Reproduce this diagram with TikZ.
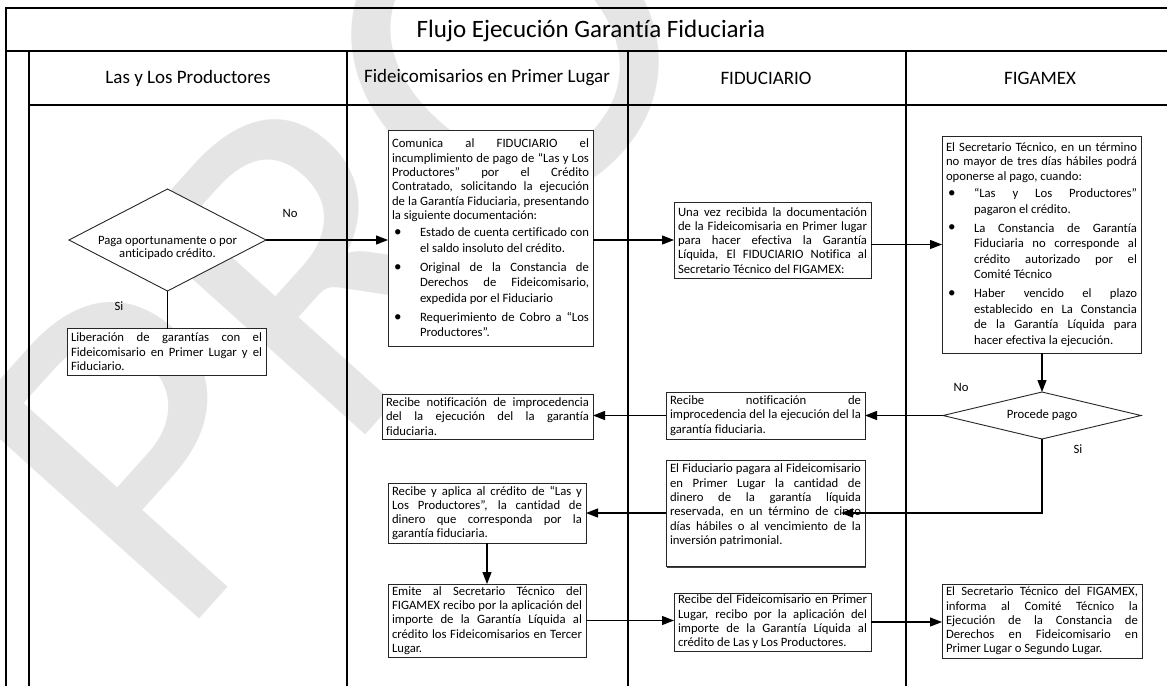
\documentclass[tikz,border=0pt]{standalone}
\usepackage{fontspec}
\setmainfont{Carlito}[Ligatures=NoCommon]
\usetikzlibrary{arrows.meta,shapes.geometric,shadows}
\newlength{\bind}
\setlength{\bind}{28pt}
\newcommand{\tx}{\fontsize{12.7}{14.3}\selectfont}
\newcommand{\bstart}{\fontsize{12.7}{15.5}\selectfont}
\newcommand{\bul}{\makebox[\bind][l]{\hspace{2pt}\raisebox{0.3pt}{\fontsize{15}{14}\selectfont\textbullet}}}
\newcommand{\jline}[1]{\noindent\makebox[\linewidth][s]{#1}\par}
\newcommand{\lline}[1]{\noindent\makebox[\linewidth][l]{#1}\par}
\newcommand{\bjline}[1]{\noindent\bul\makebox[\dimexpr\linewidth-\bind\relax][s]{#1}\par}
\newcommand{\cjline}[1]{\noindent\hspace*{\bind}\makebox[\dimexpr\linewidth-\bind\relax][s]{#1}\par}
\newcommand{\clline}[1]{\noindent\hspace*{\bind}\makebox[\dimexpr\linewidth-\bind\relax][l]{#1}\par}
\newcommand{\gapsp}{\vspace{3.5pt}}
\newcommand{\bx}[7][c]{\node[box, minimum width=#5pt, minimum height=#6pt] (#2) at (#3,#4) {\parbox[c][\dimexpr#6pt-8pt\relax][#1]{\dimexpr#5pt-8pt\relax}{\tx #7}};}
\tikzset{
  box/.style={draw=black!85, line width=0.9pt, fill=white, inner sep=0pt, outer sep=0pt, anchor=north west,
    drop shadow={shadow xshift=1.4pt, shadow yshift=-1.4pt, fill=black!75, opacity=1}},
  arr/.style={line width=1.2pt, -{Triangle[length=12pt,width=9pt]}},
  ln/.style={line width=1.2pt},
  gridln/.style={line width=1.4pt},
  lbl/.style={font=\fontsize{12.7}{13}\selectfont, inner sep=0pt},
  hdr/.style={font=\fontsize{19}{22}\selectfont, inner sep=0pt},
  dia/.style={diamond, draw=black!85, line width=0.9pt, fill=white, inner sep=0pt, outer sep=0pt},
}
\begin{document}
\begin{tikzpicture}[x=1pt,y=-1pt]
\useasboundingbox (0,0) rectangle (1167,686);
\fill[white] (0,0) rectangle (1167,686);
% watermark
\begin{scope}
\clip (0,0) rectangle (1167,686);
\node[rotate=48, font=\fontsize{480}{480}\selectfont, text=black!10, anchor=base west, inner sep=0pt] (wm) at (176,645) {PROYECTO};
\end{scope}
% table
\draw[gridln] (6,686) -- (6,8) -- (1167,8);
\draw[gridln] (6,51) -- (1167,51);
\draw[gridln] (29,105) -- (1167,105);
\draw[gridln] (29,51) -- (29,686);
\draw[gridln] (347,51) -- (347,686);
\draw[gridln] (628,51) -- (628,686);
\draw[gridln] (906,51) -- (906,686);
\node[font=\fontsize{25}{30}\selectfont, inner sep=0pt] (title) at (591,31) {Flujo Ejecución Garantía Fiduciaria};
\node[hdr] (h1) at (188,78) {Las y Los Productores};
\node[hdr] (h2) at (487,78) {Fideicomisarios en Primer Lugar};
\node[hdr] (h3) at (766,78) {FIDUCIARIO};
\node[hdr] (h4) at (1040,78) {FIGAMEX};
% diamonds
\node[dia, minimum width=197pt, minimum height=102pt] (d1) at (167.5,240) {};
\node[lbl, align=center] (d1t) at (167.5,248) {Paga oportunamente o por\\anticipado crédito.};
\node[dia, minimum width=198pt, minimum height=47pt] (d2) at (1042,415.5) {};
\node[lbl] (d2t) at (d2.center) {Procede pago};
% boxes
\bx{l1}{67}{328.5}{199}{46.5}{%
\jline{Liberación de garantías con el}
\jline{Fideicomisario en Primer Lugar y el}
\lline{Fiduciario.}}
\bx{b1}{388}{130}{205}{216}{%
\jline{Comunica al FIDUCIARIO el}
\jline{incumplimiento de pago de “Las y Los}
\jline{Productores” por el Crédito}
\jline{Contratado, solicitando la ejecución}
\jline{de la Garantía Fiduciaria, presentando}
\lline{la siguiente documentación:}
\bstart\vspace{2pt}\bjline{Estado de cuenta certificado con}
\clline{el saldo insoluto del crédito.}
\gapsp\bjline{Original de la Constancia de}
\cjline{Derechos de Fideicomisario,}
\clline{expedida por el Fiduciario}
\gapsp\bjline{Requerimiento de Cobro a “Los}
\clline{Productores”.}}
\bx{b2}{674}{202.5}{197}{75.5}{%
\jline{Una vez recibida la documentación}
\jline{de la Fideicomisaria en Primer lugar}
\jline{para hacer efectiva la Garantía}
\jline{Líquida, El FIDUCIARIO Notifica al}
\lline{Secretario Técnico del FIGAMEX:}}
\bx{b3}{942}{136}{199}{217}{%
\jline{El Secretario Técnico, en un término}
\jline{no mayor de tres días hábiles podrá}
\lline{oponerse al pago, cuando:}
\bstart\vspace{2pt}\bjline{“Las y Los Productores”}
\clline{pagaron el crédito.}
\gapsp\bjline{La Constancia de Garantía}
\cjline{Fiduciaria no corresponde al}
\cjline{crédito autorizado por el}
\clline{Comité Técnico}
\gapsp\bjline{Haber vencido el plazo}
\cjline{establecido en La Constancia}
\cjline{de la Garantía Líquida para}
\clline{hacer efectiva la ejecución.}}
\bx{b4}{382}{394}{211}{45}{%
\jline{Recibe notificación de improcedencia}
\jline{del la ejecución del la garantía}
\lline{fiduciaria.}}
\bx{b5}{666}{392}{199}{47}{%
\jline{Recibe notificación de}
\jline{improcedencia del la ejecución del la}
\lline{garantía fiduciaria.}}
\bx[t]{b6}{666}{460}{199}{106.5}{%
\jline{El Fiduciario pagara al Fideicomisario}
\jline{en Primer Lugar la cantidad de}
\jline{dinero de la garantía líquida}
\jline{reservada, en un término de cinco}
\jline{días hábiles o al vencimiento de la}
\lline{inversión patrimonial.}}
\bx{b7}{388}{483}{198}{60}{%
\jline{Recibe y aplica al crédito de “Las y}
\jline{Los Productores”, la cantidad de}
\jline{dinero que corresponda por la}
\lline{garantía fiduciaria.}}
\bx{b8}{388}{584}{198}{73}{%
\jline{Emite al Secretario Técnico del}
\jline{FIGAMEX recibo por la aplicación del}
\jline{importe de la Garantía Líquida al}
\jline{crédito los Fideicomisarios en Tercer}
\lline{Lugar.}}
\bx{b9}{674}{593}{197}{58}{%
\jline{Recibe del Fideicomisario en Primer}
\jline{Lugar, recibo por la aplicación del}
\jline{importe de la Garantía Líquida al}
\lline{crédito de Las y Los Productores.}}
\bx{b10}{942}{584}{200}{74}{%
\jline{El Secretario Técnico del FIGAMEX,}
\jline{informa al Comité Técnico la}
\jline{Ejecución de la Constancia de}
\jline{Derechos en Fideicomisario en}
\lline{Primer Lugar o Segundo Lugar.}}
% connectors
\draw[arr] (d1.east) -- (d1.east -| b1.west);
\draw[ln] (d1.south) -- (d1.south |- l1.north);
\draw[arr] (b1.east |- d1.east) -- (b2.west |- d1.east);
\draw[arr] (b2.east |- b3.west) -- (b3.west);
\draw[arr] (d2.north |- b3.south) -- (d2.north);
\draw[arr] (d2.west) -- (d2.west -| b5.east);
\draw[arr] (b5.west |- d2.west) -- (b4.east |- d2.west);
\coordinate (siend) at (841,513);
\draw[arr] (d2.south) |- (siend);
\draw[arr] (b6.west |- siend) -- (b7.east |- siend);
\draw[arr] (b7.south) -- (b8.north);
\draw[arr] (b8.east) -- (b8.east -| b9.west);
\draw[arr] (b9.east) -- (b9.east -| b10.west);
% labels
\node[lbl] (no1) at (290,213.5) {No};
\node[lbl] (si1) at (119,306) {Si};
\node[lbl] (no2) at (961,387) {No};
\node[lbl] (si2) at (1078,449) {Si};
\end{tikzpicture}
\end{document}
